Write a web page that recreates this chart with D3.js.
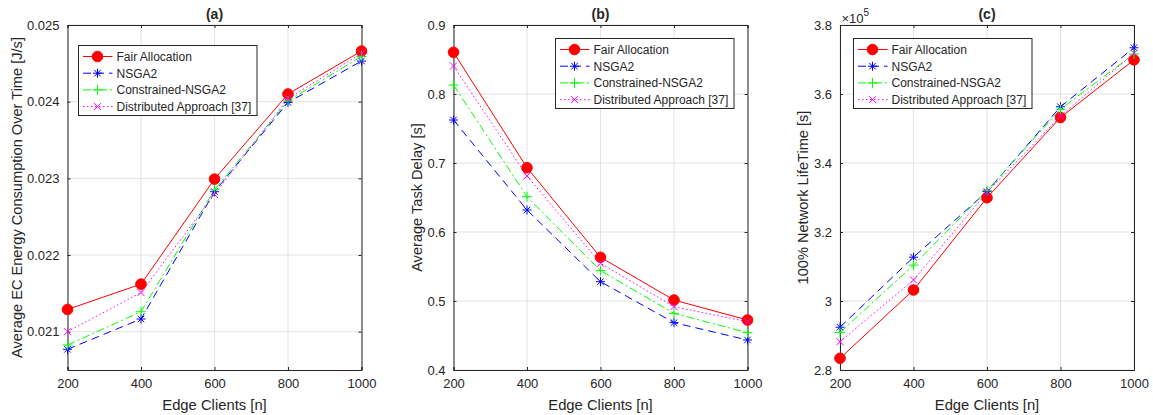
<!DOCTYPE html>
<html><head><meta charset="utf-8">
<script src="https://cdn.jsdelivr.net/npm/d3@7"></script>
<style>
body{margin:0;background:#fff;}
text{font-family:"Liberation Sans",Arial,Helvetica,sans-serif;fill:#262626;}
</style></head>
<body><svg id="chart" width="1153" height="415"></svg>
<script>
const clients = [200, 400, 600, 800, 1000];
const seriesNames = ["Fair Allocation", "NSGA2", "Constrained-NSGA2", "Distributed Approach [37]"];

// (a) Average EC energy consumption over time [J/s]
const energyFair = [0.02129, 0.02162, 0.02299, 0.02410, 0.02466];
const energyNSGA2 = [0.02077, 0.021165, 0.022826, 0.02399, 0.02453];
const energyCNSGA2 = [0.020826, 0.02126, 0.02285, 0.02401, 0.02459];
const energyDist = [0.02100, 0.02151, 0.02279, 0.02404, 0.02463];

// (b) Average task delay [s]
const delayFair = [0.8604, 0.6932, 0.5633, 0.5014, 0.4725];
const delayNSGA2 = [0.7623, 0.6319, 0.5280, 0.4686, 0.4435];
const delayCNSGA2 = [0.8130, 0.6512, 0.5440, 0.4821, 0.4541];
const delayDist = [0.8406, 0.6812, 0.5546, 0.4918, 0.4700];

// (c) 100% network lifetime [s] (x10^5)
const lifeFair = [2.834, 3.032, 3.2995, 3.532, 3.699];
const lifeNSGA2 = [2.924, 3.127, 3.317, 3.563, 3.734];
const lifeCNSGA2 = [2.909, 3.104, 3.320, 3.556, 3.716];
const lifeDist = [2.882, 3.061, 3.315, 3.536, 3.718];

const energyTicks = [0.021, 0.022, 0.023, 0.024, 0.025];
const delayTicks = [0.4, 0.5, 0.6, 0.7, 0.8, 0.9];
const lifeTicks = [2.8, 3.0, 3.2, 3.4, 3.6, 3.8];
const energyTickLabels = ["0.021", "0.022", "0.023", "0.024", "0.025"];
const delayTickLabels = ["0.4", "0.5", "0.6", "0.7", "0.8", "0.9"];
const lifeTickLabels = ["2.8", "3", "3.2", "3.4", "3.6", "3.8"];
const xTickLabels = ["200", "400", "600", "800", "1000"];

const styles = [
  {color: "#ff0000", dash: null, marker: "circle"},
  {color: "#0000ff", dash: "8,5", marker: "asterisk"},
  {color: "#00ff00", dash: "8,3,2,3", marker: "plus"},
  {color: "#ff00ff", dash: "1.5,2.5", marker: "cross"}
];

const panels = [
  {title: "(a)", left: 67.5, yLabel: "Average EC Energy Consumption Over Time [J/s]", yLabelX: 17,
   domain: [0.0205, 0.025], ticks: energyTicks, tickLabels: energyTickLabels,
   data: [energyFair, energyNSGA2, energyCNSGA2, energyDist], legend: {x: 78.5, y: 45.5}},
  {title: "(b)", left: 453.5, yLabel: "Average Task Delay [s]", yLabelX: 417,
   domain: [0.4, 0.9], ticks: delayTicks, tickLabels: delayTickLabels,
   data: [delayFair, delayNSGA2, delayCNSGA2, delayDist], legend: {x: 555.5, y: 38.5}},
  {title: "(c)", left: 840, yLabel: "100% Network LifeTime [s]", yLabelX: 803,
   domain: [2.8, 3.8], ticks: lifeTicks, tickLabels: lifeTickLabels, exponent: true,
   data: [lifeFair, lifeNSGA2, lifeCNSGA2, lifeDist], legend: {x: 853.5, y: 38.5}}
];

const W = 294, plotTop = 25, plotBottom = 370;
const svg = d3.select("#chart");
const axisColor = "#262626";

function drawMarker(g, type, x, y, color) {
  if (type === "circle") {
    g.append("circle").attr("cx", x).attr("cy", y).attr("r", 5.3).attr("fill", color).attr("stroke", color);
  } else if (type === "asterisk") {
    const s = 4.5, d = s * 0.72;
    g.append("path").attr("d", `M${x-s},${y}L${x+s},${y}M${x},${y-s}L${x},${y+s}M${x-d},${y-d}L${x+d},${y+d}M${x-d},${y+d}L${x+d},${y-d}`)
      .attr("stroke", color).attr("stroke-width", 1).attr("fill", "none");
  } else if (type === "plus") {
    const s = 5;
    g.append("path").attr("d", `M${x-s},${y}L${x+s},${y}M${x},${y-s}L${x},${y+s}`)
      .attr("stroke", color).attr("stroke-width", 1).attr("fill", "none");
  } else if (type === "cross") {
    const s = 3.5;
    g.append("path").attr("d", `M${x-s},${y-s}L${x+s},${y+s}M${x-s},${y+s}L${x+s},${y-s}`)
      .attr("stroke", color).attr("stroke-width", 1).attr("fill", "none");
  }
}

panels.forEach(p => {
  const x = d3.scaleLinear().domain([200, 1000]).range([p.left, p.left + W]);
  const y = d3.scaleLinear().domain(p.domain).range([plotBottom, plotTop]);
  const g = svg.append("g");

  // grid
  clients.forEach(c => g.append("line").attr("x1", x(c)).attr("x2", x(c)).attr("y1", plotTop).attr("y2", plotBottom)
    .attr("stroke", "#e3e3e3").attr("stroke-width", 1));
  p.ticks.forEach(t => g.append("line").attr("x1", p.left).attr("x2", p.left + W).attr("y1", y(t)).attr("y2", y(t))
    .attr("stroke", "#e3e3e3").attr("stroke-width", 1));

  // axes via d3
  const xb = g.append("g").attr("transform", `translate(0,${plotBottom})`)
    .call(d3.axisBottom(x).tickValues(clients).tickFormat((d, i) => xTickLabels[i]).tickSize(-3).tickPadding(9));
  const xt = g.append("g").attr("transform", `translate(0,${plotTop})`)
    .call(d3.axisTop(x).tickValues(clients).tickFormat("").tickSize(-3));
  const yl = g.append("g").attr("transform", `translate(${p.left},0)`)
    .call(d3.axisLeft(y).tickValues(p.ticks).tickFormat((d, i) => p.tickLabels[i]).tickSize(-3).tickPadding(8));
  const yr = g.append("g").attr("transform", `translate(${p.left + W},0)`)
    .call(d3.axisRight(y).tickValues(p.ticks).tickFormat("").tickSize(-3));
  [xb, xt, yl, yr].forEach(a => {
    a.selectAll("path").attr("stroke", axisColor).attr("stroke-width", 1);
    a.selectAll("line").attr("stroke", axisColor);
    a.selectAll("text").attr("font-size", 13).attr("fill", axisColor)
      .style("font-family", '"Liberation Sans",Arial,sans-serif');
  });

  // series
  const line = d3.line().x((d, i) => x(clients[i])).y(d => y(d));
  p.data.forEach((vals, si) => {
    const st = styles[si];
    g.append("path").datum(vals).attr("d", line).attr("fill", "none")
      .attr("stroke", st.color).attr("stroke-width", 1).attr("stroke-dasharray", st.dash);
  });
  p.data.forEach((vals, si) => {
    const st = styles[si];
    vals.forEach((v, i) => drawMarker(g, st.marker, x(clients[i]), y(v), st.color));
  });

  // title
  g.append("text").attr("x", p.left + W / 2).attr("y", 18.5).attr("text-anchor", "middle")
    .attr("font-size", 14).attr("font-weight", "bold").attr("fill", "#000").text(p.title);
  // x label
  g.append("text").attr("x", p.left + W / 2).attr("y", 410).attr("text-anchor", "middle")
    .attr("font-size", 14.8).text("Edge Clients [n]");
  // y label
  g.append("text").attr("transform", `translate(${p.yLabelX + 5},${(plotTop + plotBottom) / 2}) rotate(-90)`)
    .attr("text-anchor", "middle").attr("font-size", 14.6).text(p.yLabel);
  if (p.exponent) {
    const e = g.append("text").attr("x", p.left + 1.5).attr("y", 22.5).attr("font-size", 13);
    e.append("tspan").text("×10");
    e.append("tspan").attr("dy", -6.5).attr("font-size", 10).text("5");
  }

  // legend
  const L = p.legend, lw = 178.5, lh = 70;
  const lg = g.append("g");
  lg.append("rect").attr("x", L.x).attr("y", L.y).attr("width", lw).attr("height", lh)
    .attr("fill", "#fff").attr("stroke", axisColor).attr("stroke-width", 1);
  seriesNames.forEach((name, si) => {
    const st = styles[si];
    const ry = L.y + 11 + si * 16.7;
    lg.append("line").attr("x1", L.x + 4.5).attr("x2", L.x + 34).attr("y1", ry).attr("y2", ry)
      .attr("stroke", st.color).attr("stroke-width", 1).attr("stroke-dasharray", st.dash);
    drawMarker(lg, st.marker, L.x + 19, ry, st.color);
    lg.append("text").attr("x", L.x + 38).attr("y", ry + 4.3).attr("font-size", 12).attr("fill", "#000").text(name);
  });
});
</script></body></html>
